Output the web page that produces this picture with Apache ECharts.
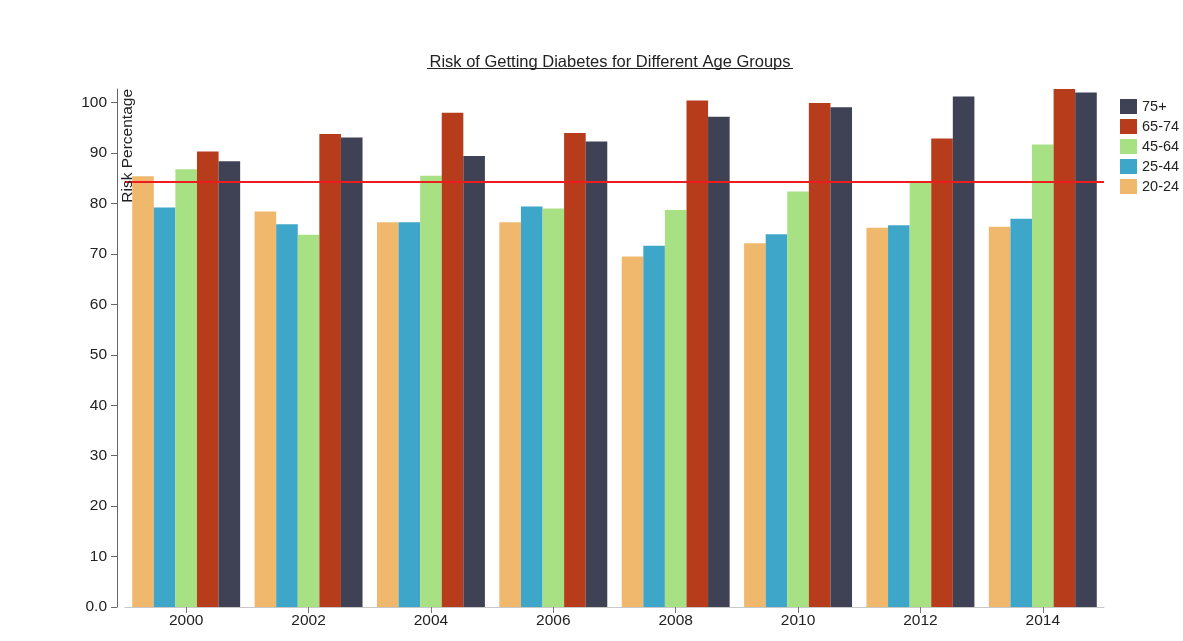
<!DOCTYPE html>
<html>
<head>
<meta charset="utf-8">
<title>Risk of Getting Diabetes for Different Age Groups</title>
<script src="https://cdn.jsdelivr.net/npm/echarts@6/dist/echarts.min.js"></script>
<style>
  html, body { margin: 0; padding: 0; background: #ffffff; }
  #chart { width: 1183px; height: 641px; }
</style>
</head>
<body>
<div id="chart"></div>
<script>
// Survey years on the category axis
const years = ['2000', '2002', '2004', '2006', '2008', '2010', '2012', '2014'];

// Age groups, in the order the bars are drawn within each year
const ageGroups = ['20-24', '25-44', '45-64', '65-74', '75+'];

// Risk percentage per age group, one value per year
const risk2024 = [85.4, 78.4, 76.3, 76.3, 69.5, 72.1, 75.2, 75.4];
const risk2544 = [79.2, 75.9, 76.3, 79.4, 71.6, 73.9, 75.7, 77.0];
const risk4564 = [86.8, 73.8, 85.5, 79.0, 78.7, 82.4, 84.1, 91.7];
const risk6574 = [90.3, 93.8, 98.0, 94.0, 100.4, 99.9, 92.9, 102.7];
const risk75up = [88.4, 93.1, 89.4, 92.3, 97.2, 99.1, 101.2, 102.0];

// Reference level drawn across the whole plot
const referenceRisk = 84.3;

// Y axis tick step
const yTickStep = 10;

const groupColors = ['#f0b86c', '#3ea6c8', '#a8e084', '#b63c1c', '#3f4154'];
const seriesValues = [risk2024, risk2544, risk4564, risk6574, risk75up];
const yMax = Math.max(...seriesValues.flat());

const fontFamily = '"Liberation Sans", Arial, Helvetica, sans-serif';

const series = ageGroups.map((name, i) => ({
  name: name,
  type: 'bar',
  data: seriesValues[i],
  barGap: '0%',
  barCategoryGap: '11.8%',
  itemStyle: { color: groupColors[i] },
  emphasis: { disabled: true },
  z: 2
}));

// Horizontal reference line on top of the bars
series.push({
  name: 'reference',
  type: 'line',
  data: [],
  silent: true,
  z: 5,
  markLine: {
    symbol: ['none', 'none'],
    silent: true,
    label: { show: false },
    lineStyle: { color: '#ee1c1c', width: 2.2, type: 'solid' },
    data: [{ yAxis: referenceRisk }]
  }
});

const chart = echarts.init(document.getElementById('chart'), null, { renderer: 'canvas' });

chart.setOption({
  animation: false,
  backgroundColor: '#ffffff',
  textStyle: { fontFamily: fontFamily },
  title: {
    text: 'Risk of Getting Diabetes for Different Age Groups',
    left: 605,
    textAlign: 'center',
    top: 49,
    textStyle: { fontFamily: fontFamily, fontSize: 16.5, fontWeight: 'normal', color: '#222222' }
  },
  legend: {
    orient: 'vertical',
    left: 1120,
    top: 99,
    padding: 0,
    itemWidth: 17,
    itemHeight: 15,
    itemGap: 5,
    icon: 'rect',
    selectedMode: false,
    data: ageGroups.slice().reverse(),
    textStyle: { fontFamily: fontFamily, fontSize: 14.5, color: '#222222' }
  },
  grid: {
    left: 125,
    top: 89,
    width: 979,
    bottom: 34,
    containLabel: false
  },
  xAxis: {
    type: 'category',
    data: years,
    axisLine: { show: true, lineStyle: { color: '#c8c8c8', width: 1 } },
    axisTick: { show: true, alignWithLabel: true, length: 6, lineStyle: { color: '#777777' } },
    axisLabel: { fontSize: 15.5, color: '#222222', margin: 6, fontFamily: fontFamily },
    splitLine: { show: false }
  },
  yAxis: {
    type: 'value',
    min: 0,
    max: yMax,
    interval: yTickStep,
    offset: 8,
    axisLine: { show: true, lineStyle: { color: '#666666', width: 1 } },
    axisTick: { show: true, length: 6, lineStyle: { color: '#666666' } },
    axisLabel: {
      fontSize: 15.5,
      color: '#222222',
      margin: 10,
      fontFamily: fontFamily,
      showMaxLabel: false,
      formatter: v => (v === 0 ? '0.0' : String(v))
    },
    splitLine: { show: false }
  },
  graphic: [
    {
      // underline beneath the title
      type: 'line',
      shape: { x1: 427, y1: 68.5, x2: 793, y2: 68.5 },
      style: { stroke: '#222222', lineWidth: 1 },
      silent: true
    },
    {
      // rotated y axis title placed inside the plot
      type: 'text',
      x: 120,
      y: 89,
      rotation: Math.PI / 2,
      silent: true,
      style: {
        text: 'Risk Percentage',
        align: 'right',
        verticalAlign: 'top',
        fontFamily: fontFamily,
        fontSize: 15.5,
        fill: '#222222'
      },
      z: 10
    }
  ],
  series: series
});
</script>
</body>
</html>
